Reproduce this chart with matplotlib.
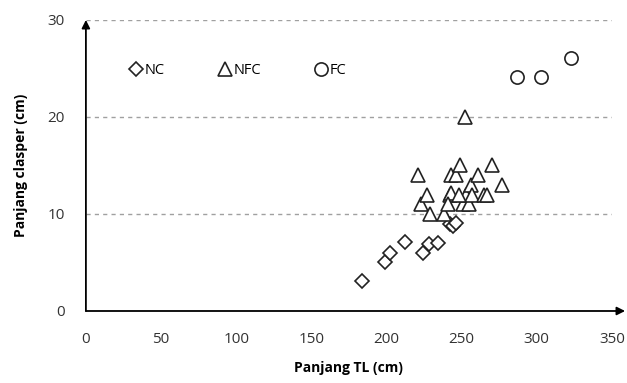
import matplotlib
matplotlib.use("Agg")
import matplotlib.pyplot as plt

# Data (Panjang TL cm, Panjang clasper cm)
nc_x = [184, 199, 202, 212, 224, 228, 234, 242, 244, 246]
nc_y = [3.1, 5.0, 6.0, 7.1, 6.0, 6.9, 7.0, 9.0, 8.8, 9.1]

nfc_x = [221, 223, 227, 229, 238, 242, 243, 243, 246, 249, 251, 252, 253, 255,
         256, 257, 261, 265, 267, 270, 277, 248, 241]
nfc_y = [14.0, 11.0, 12.0, 10.0, 10.0, 12.0, 12.2, 14.0, 14.0, 15.0, 11.0, 20.0,
         12.0, 11.0, 13.0, 12.0, 14.0, 12.0, 12.0, 15.0, 13.0, 12.0, 11.0]

fc_x = [287, 303, 323]
fc_y = [24.1, 24.1, 26.1]

x_ticks = [0, 50, 100, 150, 200, 250, 300, 350]
y_ticks = [0, 10, 20, 30]

plt.rcParams['font.family'] = ['Open Sans', 'DejaVu Sans']

fig = plt.figure(figsize=(6.27, 3.83), dpi=100)
ax = fig.add_axes([0.137, 0.188, 0.839, 0.760])

mk = dict(linestyle='none', markerfacecolor='white', markeredgecolor='#222222',
          markeredgewidth=1.2, clip_on=False)
h1, = ax.plot(nc_x, nc_y, marker='D', markersize=7, label='NC', **mk)
h2, = ax.plot(nfc_x, nfc_y, marker='^', markersize=10.5, label='NFC', **mk)
h3, = ax.plot(fc_x, fc_y, marker='o', markersize=9.5, label='FC', **mk)

ax.set_xlim(0, 350)
ax.set_ylim(0, 30)
ax.set_xticks(x_ticks)
ax.set_yticks(y_ticks)

for yv in y_ticks[1:]:
    ax.axhline(yv, color='#a0a0a0', linestyle=(0, (3, 3)), linewidth=1.0, zorder=0)

for s in ['top', 'right', 'left', 'bottom']:
    ax.spines[s].set_visible(False)

# arrowed axes
ax.annotate('', xy=(1.025, 0), xytext=(0, 0), xycoords='axes fraction',
            arrowprops=dict(arrowstyle='-|>', color='black', lw=1.3,
                            mutation_scale=12, shrinkA=0, shrinkB=0))
ax.annotate('', xy=(0, 1.0), xytext=(0, 0), xycoords='axes fraction',
            arrowprops=dict(arrowstyle='-|>', color='black', lw=1.3,
                            mutation_scale=12, shrinkA=0, shrinkB=0))

ax.tick_params(axis='both', length=0, labelsize=11, labelcolor='#333333')
ax.tick_params(axis='x', pad=15)
ax.tick_params(axis='y', pad=15)

ax.set_xlabel('Panjang TL (cm)', fontsize=10, fontweight='bold', labelpad=10)
ax.set_ylabel('Panjang clasper (cm)', fontsize=10, fontweight='bold', labelpad=14)

ax.legend(handles=[h1, h2, h3], loc='center left', bbox_to_anchor=(0.07, 0.827),
          ncol=3, frameon=False, fontsize=10.5, handletextpad=0.1,
          columnspacing=3.6, handlelength=1.0, borderaxespad=0)

fig.savefig('out.png', dpi=100)
